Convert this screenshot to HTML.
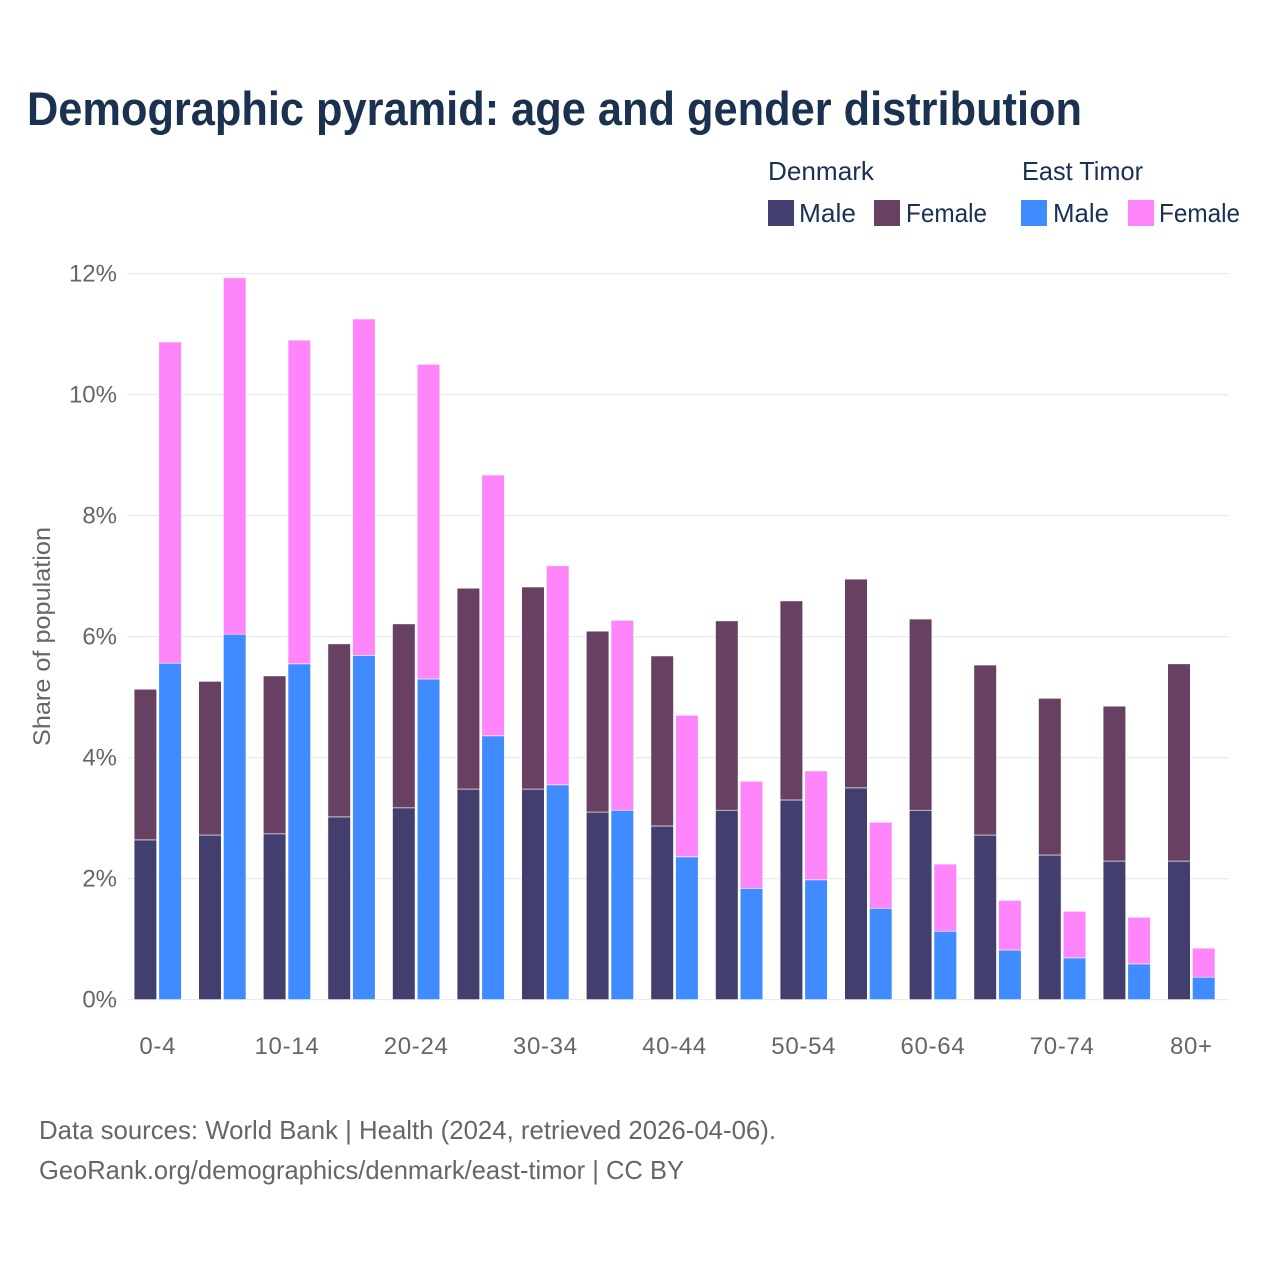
<!DOCTYPE html>
<html lang="en">
<head>
<meta charset="utf-8">
<title>Demographic pyramid: age and gender distribution</title>
<style>
html,body{margin:0;padding:0;background:#fff;}
svg{display:block;font-family:"Liberation Sans",Arial,sans-serif;}
.legend-text{font-size:26px;fill:#1b3153;}
.tick-text{font-size:24px;fill:#666666;}
.foot-text{font-size:26px;fill:#666666;}
</style>
</head>
<body>
<svg id="chart" xmlns="http://www.w3.org/2000/svg" width="1280" height="1280" viewBox="0 0 1280 1280">
  <rect x="0" y="0" width="1280" height="1280" fill="#ffffff"/>
  <text x="27" y="125" font-size="47" font-weight="700" fill="#1a3150" textLength="1055" lengthAdjust="spacingAndGlyphs">Demographic pyramid: age and gender distribution</text>

  <g>
    <text class="legend-text" x="768" y="180" textLength="106" lengthAdjust="spacingAndGlyphs">Denmark</text>
    <text class="legend-text" x="1022" y="180" textLength="121" lengthAdjust="spacingAndGlyphs">East Timor</text>
    <rect x="768" y="200" width="26" height="26" fill="#423f6f"/>
    <text class="legend-text" x="799" y="222" textLength="57" lengthAdjust="spacingAndGlyphs">Male</text>
    <rect x="874" y="200" width="26" height="26" fill="#674062"/>
    <text class="legend-text" x="906" y="222" textLength="81" lengthAdjust="spacingAndGlyphs">Female</text>
    <rect x="1021" y="200" width="26" height="26" fill="#408bff"/>
    <text class="legend-text" x="1053" y="222" textLength="56" lengthAdjust="spacingAndGlyphs">Male</text>
    <rect x="1128" y="200" width="26" height="26" fill="#ff85fa"/>
    <text class="legend-text" x="1159" y="222" textLength="81" lengthAdjust="spacingAndGlyphs">Female</text>
  </g>

  <g id="grid"></g>
  <g id="yaxis"></g>
  <g id="bars"></g>
  <g id="xaxis"></g>

  <text class="tick-text" transform="translate(50,636.5) rotate(-90)" text-anchor="middle" textLength="219" lengthAdjust="spacingAndGlyphs">Share of population</text>

  <text class="foot-text" x="39" y="1139" textLength="737" lengthAdjust="spacingAndGlyphs">Data sources: World Bank | Health (2024, retrieved 2026-04-06).</text>
  <text class="foot-text" x="39" y="1179" textLength="645" lengthAdjust="spacingAndGlyphs">GeoRank.org/demographics/denmark/east-timor | CC BY</text>
</svg>
<script>
const categories = ["0-4","5-9","10-14","15-19","20-24","25-29","30-34","35-39","40-44","45-49","50-54","55-59","60-64","65-69","70-74","75-79","80+"];
const xTickLabels = ["0-4","10-14","20-24","30-34","40-44","50-54","60-64","70-74","80+"];
const yTicks = [0,2,4,6,8,10,12];
const denmarkMale = [2.64,2.72,2.74,3.02,3.17,3.48,3.48,3.10,2.87,3.13,3.30,3.50,3.13,2.72,2.39,2.29,2.29];
const denmarkFemale = [2.49,2.54,2.61,2.86,3.04,3.32,3.34,2.99,2.81,3.13,3.29,3.45,3.16,2.81,2.59,2.56,3.26];
const eastTimorMale = [5.56,6.04,5.55,5.69,5.30,4.36,3.55,3.13,2.36,1.84,1.98,1.51,1.13,0.82,0.69,0.59,0.37];
const eastTimorFemale = [5.31,5.89,5.35,5.56,5.20,4.31,3.62,3.14,2.34,1.77,1.80,1.42,1.11,0.82,0.77,0.77,0.48];

const SVG_NS = "http://www.w3.org/2000/svg";
const plotLeft = 127, plotRight = 1229;
const zeroY = 999.6, pxPerUnit = 60.5;
const firstBarX = 134.1, bandStep = 64.6, barWidth = 22.6, barGap = 24.7;

function yScale(v) { return zeroY - v * pxPerUnit; }
function xScale(i) { return firstBarX + i * bandStep; }
function centerX(i) { return xScale(i) + (barGap + barWidth) / 2; }

function make(tag, attrs, parent) {
  const el = document.createElementNS(SVG_NS, tag);
  for (const k in attrs) el.setAttribute(k, attrs[k]);
  parent.appendChild(el);
  return el;
}

const gridGroup = document.getElementById("grid");
const yAxisGroup = document.getElementById("yaxis");
yTicks.forEach(function (t) {
  const line = make("line", {x1: plotLeft, x2: plotRight, y1: yScale(t), y2: yScale(t), stroke: "#eaeaea", "stroke-width": 1.2}, gridGroup);
  
  
  const label = make("text", {x: 117, y: yScale(t) + 8, "text-anchor": "end", "class": "tick-text"}, yAxisGroup);
  
  
  label.textContent = t + "%";
});

const barsGroup = document.getElementById("bars");
function drawBar(x, base, value, fill, seriesName) {
  const bar = make("rect", {x: x, y: yScale(base + value), width: barWidth, height: yScale(base) - yScale(base + value), fill: fill, stroke: "#ffffff", "stroke-width": 0.6}, barsGroup);
  
  
}
categories.forEach(function (c, i) {
  const x1 = xScale(i), x2 = xScale(i) + barGap;
  drawBar(x1, 0, denmarkMale[i], "#423f6f", "bar-denmark-male");
  drawBar(x1, denmarkMale[i], denmarkFemale[i], "#674062", "bar-denmark-female");
  drawBar(x2, 0, eastTimorMale[i], "#408bff", "bar-east-timor-male");
  drawBar(x2, eastTimorMale[i], eastTimorFemale[i], "#ff85fa", "bar-east-timor-female");
});

const xAxisGroup = document.getElementById("xaxis");
xTickLabels.forEach(function (lab) {
  const i = categories.indexOf(lab);
  const tick = make("text", {x: centerX(i), y: 1054, "text-anchor": "middle", "class": "tick-text", "letter-spacing": "0.7"}, xAxisGroup);
  
  
  tick.textContent = lab;
});
</script>
</body>
</html>
